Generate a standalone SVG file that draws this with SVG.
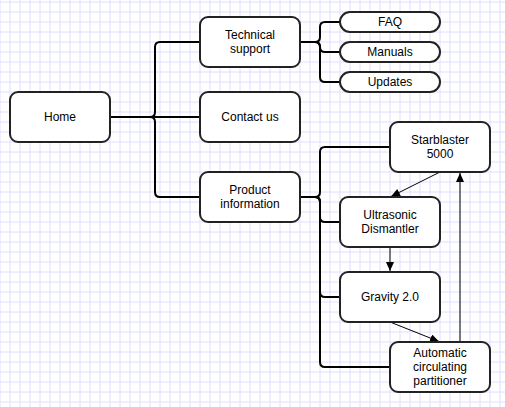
<svg xmlns="http://www.w3.org/2000/svg" width="505" height="407" viewBox="0 0 505 407">
<style>
.node rect{fill:#fff;stroke:#222;stroke-width:2}
.node text{font-family:"Liberation Sans",Arial,sans-serif;font-size:12px;fill:#000;text-anchor:middle}
.tree{fill:none;stroke:#000;stroke-width:2}
.arr{fill:none;stroke:#000;stroke-width:1}
</style>
<defs>
<pattern id="grid" patternUnits="userSpaceOnUse" x="-5" y="-3" width="10" height="10">
<path d="M5,0V10M0,5H10" stroke="#dedeff" stroke-width="1" fill="none"/>
</pattern>
<marker id="ah" markerUnits="userSpaceOnUse" markerWidth="10" markerHeight="10" refX="9" refY="4" orient="auto">
<path d="M0,0L9,4L0,8z" fill="#000"/>
</marker>
</defs>
<rect width="505" height="407" fill="#fff"/>
<rect width="505" height="407" fill="url(#grid)"/>
<g id="connectors">
<path class="tree" d="M110,117H150Q155,117 155,112V47Q155,42 160,42H200"/>
<path class="tree" d="M110,117H200"/>
<path class="tree" d="M110,117H150Q155,117 155,122V192Q155,197 160,197H200"/>
<path class="tree" d="M300,42H315Q320,42 320,37V27Q320,22 325,22H340"/>
<path class="tree" d="M300,42H315Q320,42 320,47Q320,52 325,52H340"/>
<path class="tree" d="M300,42H315Q320,42 320,47V77Q320,82 325,82H340"/>
<path class="tree" d="M300,197H315Q320,197 320,192V152Q320,147 325,147H390"/>
<path class="tree" d="M300,197H315Q320,197 320,202V217Q320,222 325,222H340"/>
<path class="tree" d="M300,197H315Q320,197 320,202V292Q320,297 325,297H340"/>
<path class="tree" d="M300,197H315Q320,197 320,202V362Q320,367 325,367H390"/>
<path class="arr" d="M440,172L391,196.5" marker-end="url(#ah)"/>
<path class="arr" d="M390,247V271" marker-end="url(#ah)"/>
<path class="arr" d="M390,322L439,341.5" marker-end="url(#ah)"/>
<path class="arr" d="M460,342V173" marker-end="url(#ah)"/>
</g>
<g id="home" class="node"><rect x="10" y="92" width="100" height="50" rx="8"/><text x="60" y="121">Home</text></g>
<g id="technical-support" class="node"><rect x="200" y="17" width="100" height="50" rx="8"/><text x="250" y="39">Technical</text><text x="250" y="53">support</text></g>
<g id="contact-us" class="node"><rect x="200" y="92" width="100" height="50" rx="8"/><text x="250" y="121">Contact us</text></g>
<g id="product-information" class="node"><rect x="200" y="172" width="100" height="50" rx="8"/><text x="250" y="194">Product</text><text x="250" y="208">information</text></g>
<g id="faq" class="node"><rect x="340" y="12" width="100" height="20" rx="10"/><text x="390" y="26">FAQ</text></g>
<g id="manuals" class="node"><rect x="340" y="42" width="100" height="20" rx="10"/><text x="390" y="56">Manuals</text></g>
<g id="updates" class="node"><rect x="340" y="72" width="100" height="20" rx="10"/><text x="390" y="86">Updates</text></g>
<g id="starblaster" class="node"><rect x="390" y="122" width="100" height="50" rx="8"/><text x="440" y="144">Starblaster</text><text x="440" y="158">5000</text></g>
<g id="ultrasonic" class="node"><rect x="340" y="197" width="100" height="50" rx="8"/><text x="390" y="219">Ultrasonic</text><text x="390" y="233">Dismantler</text></g>
<g id="gravity" class="node"><rect x="340" y="272" width="100" height="50" rx="8"/><text x="390" y="301">Gravity 2.0</text></g>
<g id="automatic" class="node"><rect x="390" y="342" width="100" height="50" rx="8"/><text x="440" y="357">Automatic</text><text x="440" y="371">circulating</text><text x="440" y="385">partitioner</text></g>
</svg>
